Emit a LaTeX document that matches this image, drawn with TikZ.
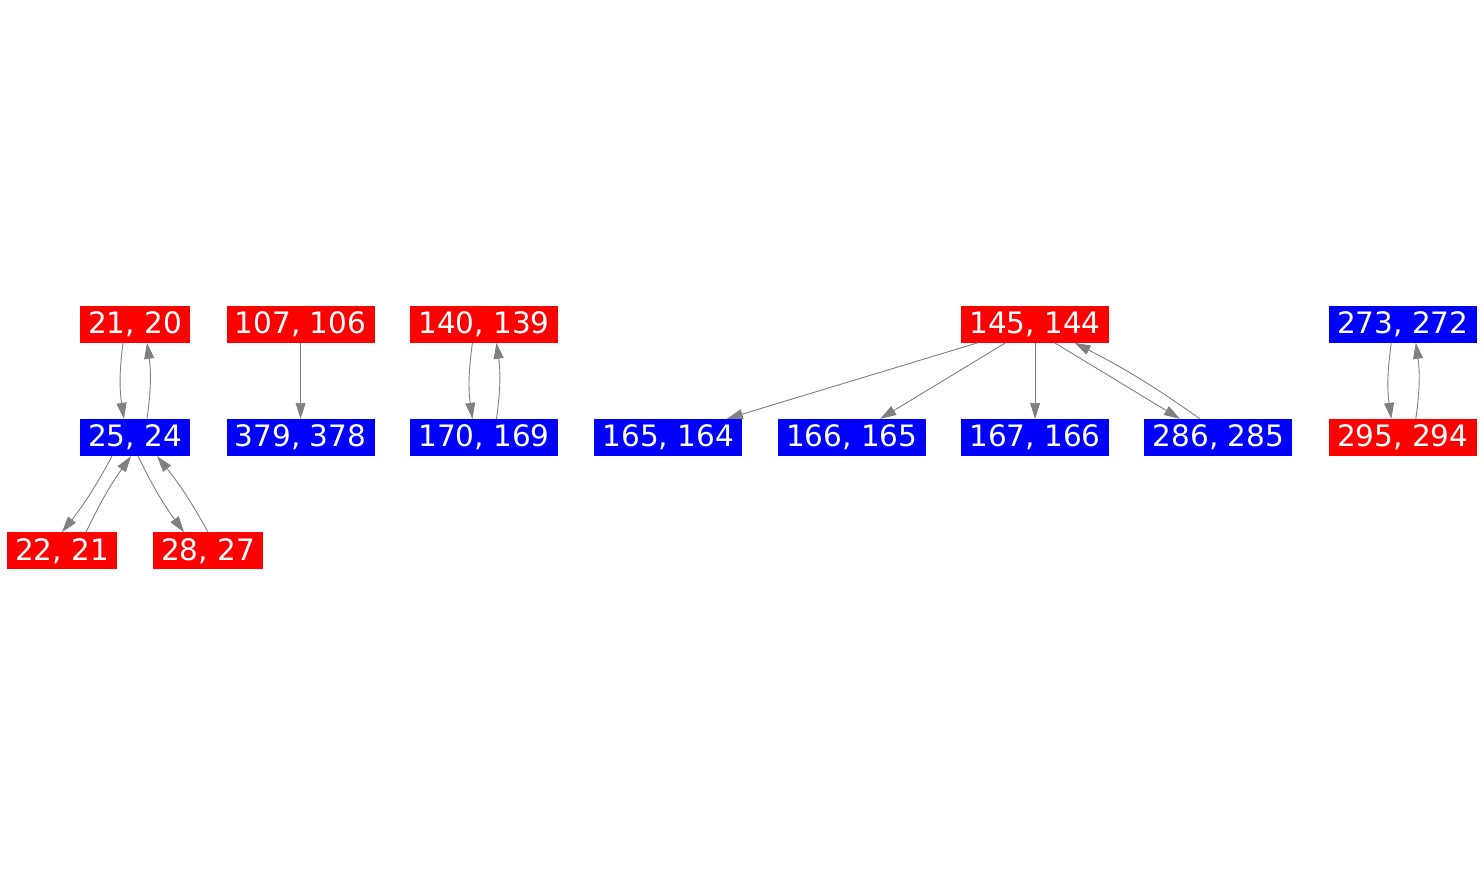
\documentclass[tikz,border=0pt]{standalone}
\usepackage{fontspec}
\setmainfont{DejaVu Sans}
\usetikzlibrary{arrows.meta}
\usetikzlibrary{positioning}

\begin{document}
\begin{tikzpicture} [
    x=1pt, y=-1pt,
    cell/.style={rectangle, text=white, inner xsep=8.3pt, inner ysep=0pt,
                 minimum height=37pt, font=\fontsize{29.5}{31}\selectfont},
    redcell/.style={cell, fill=red},
    bluecell/.style={cell, fill=blue},
    link/.style={draw=gray, line width=0.9pt,
                 -{Stealth[inset=0pt,length=16pt,width=10pt]}}
    ]
    \useasboundingbox (0,0) rectangle (1481,875);
    %Nodes, middle row
    \node[bluecell]  (n25)   at (135,437.5)          {25, 24};
    \node[bluecell]  (n379)  [right=36pt of n25]    {379, 378};
    \node[bluecell]  (n170)  [right=35pt of n379]   {170, 169};
    \node[bluecell]  (n165)  [right=36pt of n170]   {165, 164};
    \node[bluecell]  (n166)  [right=35pt of n165]   {166, 165};
    \node[bluecell]  (n167)  [right=35pt of n166]   {167, 166};
    \node[bluecell]  (n286)  [right=35pt of n167]   {286, 285};
    \node[redcell]   (n295)  [right=36pt of n286]   {295, 294};
    %Nodes, top row
    \node[redcell]   (n21)   [above=76pt of n25]    {21, 20};
    \node[redcell]   (n107)  [above=76pt of n379]   {107, 106};
    \node[redcell]   (n140)  [above=76pt of n170]   {140, 139};
    \node[redcell]   (n145)  [above=76pt of n167]   {145, 144};
    \node[bluecell]  (n273)  [above=76pt of n295]   {273, 272};
    %Nodes, bottom row
    \node[redcell]   (n22)   [below=76pt of n25, xshift=-73pt] {22, 21};
    \node[redcell]   (n28)   [below=76pt of n25, xshift=73pt]  {28, 27};
    %Lines
    \draw[link] ([xshift=-12pt]n21.south) to[bend right=8] ([xshift=-11pt]n25.north);
    \draw[link] ([xshift=12pt]n25.north) to[bend right=8] ([xshift=12pt]n21.south);
    \draw[link] ([xshift=-23pt]n25.south) to[bend left=5] (n22.north);
    \draw[link] ([xshift=24pt]n22.north) to[bend left=5] ([xshift=-4pt]n25.south);
    \draw[link] ([xshift=3pt]n25.south) to[bend right=5] ([xshift=-24pt]n28.north);
    \draw[link] (n28.north) to[bend right=5] ([xshift=22pt]n25.south);
    \draw[link] (n107.south) -- (n379.north);
    \draw[link] ([xshift=-11.5pt]n140.south) to[bend right=8] ([xshift=-11.5pt]n170.north);
    \draw[link] ([xshift=12.5pt]n170.north) to[bend right=8] ([xshift=12.5pt]n140.south);
    \draw[link] ([xshift=-57.5pt]n145.south) -- ([xshift=58.5pt]n165.north);
    \draw[link] ([xshift=-29.5pt]n145.south) -- ([xshift=28.5pt]n166.north);
    \draw[link] (n145.south) -- (n167.north);
    \draw[link] ([xshift=19.5pt]n145.south) -- ([xshift=-38.5pt]n286.north);
    \draw[link] ([xshift=-18.5pt]n286.north) to[bend right=4] ([xshift=39.5pt]n145.south);
    \draw[link] ([xshift=-11.5pt]n273.south) to[bend right=8] ([xshift=-11.5pt]n295.north);
    \draw[link] ([xshift=13pt]n295.north) to[bend right=8] ([xshift=13pt]n273.south);
\end{tikzpicture}
\end{document}
